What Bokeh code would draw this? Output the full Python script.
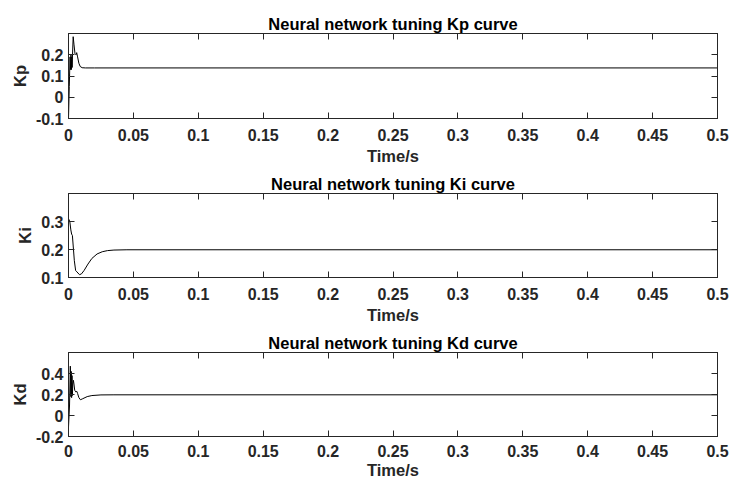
from bokeh.plotting import figure
from bokeh.models import FixedTicker, NumeralTickFormatter, LinearAxis, Range1d
from bokeh.layouts import column
from bokeh.embed import file_html
from bokeh.resources import INLINE

# ---- data ----
kp_t = [0, 0.0006, 0.0012, 0.0016, 0.0019, 0.0022, 0.0025, 0.0028, 0.0031, 0.0036,
        0.0042, 0.0050, 0.0058, 0.0063, 0.0070, 0.0080, 0.0090, 0.0105, 0.013, 0.02, 0.5]
kp_v = [-0.1, 0.05, 0.19, 0.13, 0.2, 0.13, 0.19, 0.14, 0.2, 0.285,
        0.25, 0.205, 0.20, 0.21, 0.19, 0.16, 0.145, 0.139, 0.138, 0.138, 0.138]

ki_t = [0, 0.001, 0.0018, 0.0024, 0.003, 0.0045, 0.0055, 0.0065, 0.0085, 0.010,
        0.012, 0.015, 0.018, 0.022, 0.026, 0.030, 0.035, 0.045, 0.5]
ki_v = [0.31, 0.30, 0.27, 0.255, 0.25, 0.16, 0.125, 0.12, 0.11, 0.113,
        0.125, 0.148, 0.168, 0.184, 0.192, 0.196, 0.198, 0.199, 0.199]

kd_t = [0, 0.0008, 0.0014, 0.0018, 0.0021, 0.0024, 0.0027, 0.0030, 0.0033, 0.0038,
        0.0042, 0.0048, 0.0056, 0.0064, 0.0070, 0.0080, 0.0092, 0.0110, 0.0144, 0.018,
        0.025, 0.035, 0.5]
kd_v = [-0.11, 0.1, 0.47, 0.18, 0.42, 0.17, 0.38, 0.19, 0.30, 0.335,
        0.30, 0.24, 0.225, 0.23, 0.21, 0.17, 0.15, 0.16, 0.18, 0.19,
        0.196, 0.197, 0.197]

x_ticks = [0, 0.05, 0.1, 0.15, 0.2, 0.25, 0.3, 0.35, 0.4, 0.45, 0.5]
kp_ticks = [-0.1, 0, 0.1, 0.2]
ki_ticks = [0.1, 0.2, 0.3]
kd_ticks = [-0.2, 0, 0.2, 0.4]

titles = ["Neural network tuning Kp curve", "Neural network tuning Ki curve",
          "Neural network tuning Kd curve"]
ylabels = ["Kp", "Ki", "Kd"]
x_label = "Time/s"

FONT = "Liberation Sans"
TXT = "#262626"


def style_axis(ax, ticks, show_labels):
    ax.ticker = FixedTicker(ticks=ticks)
    ax.formatter = NumeralTickFormatter(format="0.[00]")
    ax.major_tick_in = 6
    ax.major_tick_out = 0
    ax.minor_tick_line_color = None
    ax.axis_line_color = TXT
    ax.major_tick_line_color = TXT
    ax.major_label_text_font = FONT
    ax.major_label_text_font_style = "bold"
    if show_labels:
        ax.major_label_text_font_size = "16px"
        ax.major_label_text_color = TXT
    else:
        ax.major_label_text_font_size = "1px"
        ax.major_label_text_color = None
        ax.major_label_standoff = 0


def make(t, v, title, ylabel, yr, yticks, fh, top, bottom, s_tick, s_lab):
    p = figure(frame_width=649, frame_height=fh, output_backend="svg", toolbar_location=None,
               x_range=Range1d(0, 0.5), y_range=Range1d(*yr),
               min_border_left=68, min_border_right=13,
               min_border_top=top, min_border_bottom=bottom, title=title)
    p.line(t, v, line_color="black", line_width=1)
    p.grid.visible = False
    p.outline_line_color = TXT
    p.background_fill_color = "white"
    p.border_fill_color = "white"

    p.title.text_font = FONT
    p.title.text_font_size = "16.5px"
    p.title.text_font_style = "bold"
    p.title.text_color = "black"
    p.title.align = "center"
    p.title.standoff = 2

    xa = p.xaxis[0]
    style_axis(xa, x_ticks, True)
    xa.major_label_standoff = s_tick
    xa.axis_label = x_label
    xa.axis_label_text_font = FONT
    xa.axis_label_text_font_size = "16.5px"
    xa.axis_label_text_font_style = "bold"
    xa.axis_label_text_color = TXT
    xa.axis_label_standoff = s_lab

    ya = p.yaxis[0]
    style_axis(ya, yticks, True)
    ya.major_label_standoff = 5
    ya.axis_label = ylabel
    ya.axis_label_text_font = FONT
    ya.axis_label_text_font_size = "16.5px"
    ya.axis_label_text_font_style = "bold"
    ya.axis_label_text_color = TXT
    ya.axis_label_standoff = 4

    top_ax = LinearAxis()
    style_axis(top_ax, x_ticks, False)
    p.add_layout(top_ax, "above")
    right_ax = LinearAxis()
    style_axis(right_ax, yticks, False)
    p.add_layout(right_ax, "right")
    return p


p1 = make(kp_t, kp_v, titles[0], ylabels[0], (-0.1, 0.3), kp_ticks, 85, 33, 50, 10, 3)
p2 = make(ki_t, ki_v, titles[1], ylabels[1], (0.1, 0.4), ki_ticks, 84, 25, 50, 10, 3)
p3 = make(kd_t, kd_v, titles[2], ylabels[2], (-0.2, 0.6), kd_ticks, 84, 25, 46, 8, 1)

layout = column(p1, p2, p3, spacing=0)
open("out.html", "w").write(file_html(layout, INLINE))
